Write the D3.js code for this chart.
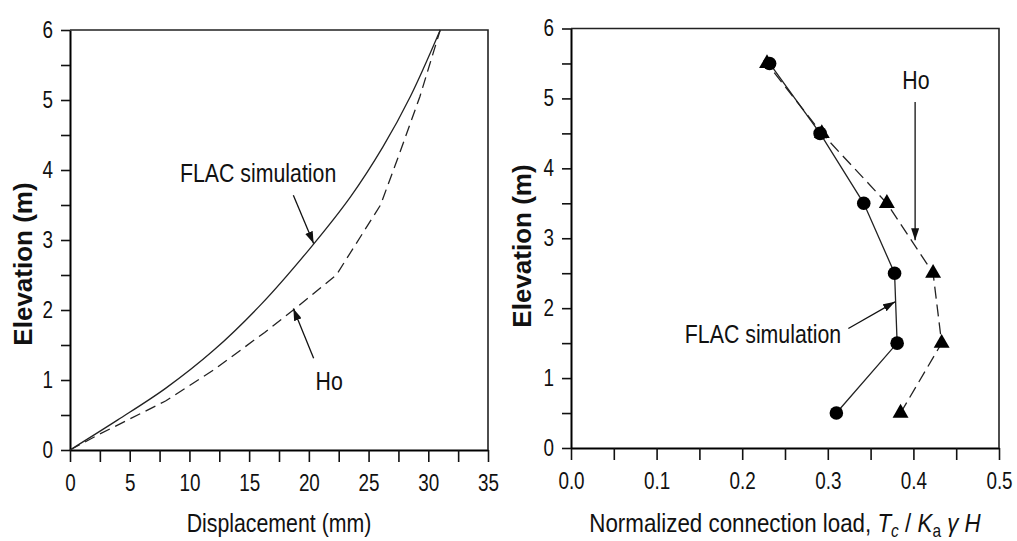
<!DOCTYPE html>
<html>
<head>
<meta charset="utf-8">
<script src="https://cdn.jsdelivr.net/npm/d3@7"></script>
<style>
  body { margin: 0; background: #fff; }
  svg text { fill: #111; }
  .tick text { font-family: "Liberation Sans", Arial, sans-serif; font-size: 23px; }
  .lbl { font-family: "Liberation Sans", Arial, sans-serif; font-size: 26px; }
  .ytitle { font-family: "Liberation Sans", Arial, sans-serif; font-size: 26px; font-weight: bold; }
</style>
</head>
<body>
<div id="chart"></div>
<script>
// left panel: wall displacement profile
const flacDisp = [0, 4, 8, 12, 16, 20, 23.5, 26.2, 28.5, 31];
const flacElev = [0, 0.43, 0.88, 1.42, 2.08, 2.86, 3.62, 4.33, 5.05, 6];
const hoDisp = [0, 2.4, 8, 12, 16.3, 18.7, 22.3, 26, 27.6, 29.3, 31];
const hoElev = [0, 0.22, 0.7, 1.14, 1.68, 2.0, 2.5, 3.5, 4.24, 5.05, 6];

// right panel: connection loads per layer
const layerElev = [0.5, 1.5, 2.5, 3.5, 4.5, 5.5];
const flacLoad = [0.31, 0.381, 0.378, 0.342, 0.291, 0.232];
const hoLoad = [0.385, 0.433, 0.423, 0.369, 0.293, 0.229];

// tick labels
const elevTicks = [0, 1, 2, 3, 4, 5, 6];
const dispTicks = [0, 5, 10, 15, 20, 25, 30, 35];
const loadTicks = ["0.0", "0.1", "0.2", "0.3", "0.4", "0.5"];

const squeeze = 0.82;   // condensed look of the original lettering

const svg = d3.select("#chart").append("svg")
    .attr("width", 1017)
    .attr("height", 541);

svg.append("defs").append("marker")
    .attr("id", "head")
    .attr("viewBox", "0 0 12 8")
    .attr("refX", 12)
    .attr("refY", 4)
    .attr("markerWidth", 12)
    .attr("markerHeight", 8)
    .attr("markerUnits", "userSpaceOnUse")
    .attr("orient", "auto")
    .append("path")
    .attr("d", "M0,0 L12,4 L0,8 Z")
    .attr("fill", "#111");

function drawFrame(x, y, xLabels, yLabels) {
    let xd = x.domain(), yd = y.domain();
    let xStep = (xd[1] - xd[0]) / (xLabels.length - 1);
    let yStep = (yd[1] - yd[0]) / (yLabels.length - 1);
    let xTickVals = d3.range(0, xLabels.length * 2 - 1).map(i => xd[0] + i * xStep / 2);
    let yTickVals = d3.range(0, yLabels.length * 2 - 1).map(i => yd[0] + i * yStep / 2);

    svg.append("g")
        .attr("transform", `translate(0, ${y.range()[0]})`)
        .call(d3.axisBottom(x)
            .tickValues(xTickVals)
            .tickSize(12)
            .tickSizeOuter(0)
            .tickPadding(13)
            .tickFormat((v, i) => i % 2 === 0 ? xLabels[i / 2] : ""))
        .call(g => g.select(".domain").attr("stroke-width", 2))
        .call(g => g.selectAll(".tick text").attr("transform", `scale(${squeeze},1)`));

    svg.append("g")
        .attr("transform", `translate(${x.range()[0]}, 0)`)
        .call(d3.axisLeft(y)
            .tickValues(yTickVals)
            .tickSize(9)
            .tickSizeOuter(0)
            .tickPadding(8 / squeeze + 9 / squeeze - 9)
            .tickFormat((v, i) => i % 2 === 0 ? yLabels[i / 2] : ""))
        .call(g => g.select(".domain").attr("stroke-width", 2))
        .call(g => g.selectAll(".tick text").attr("transform", `scale(${squeeze},1)`));

    svg.selectAll(".tick line").attr("stroke", "#111").attr("stroke-width", 1.6);

    // box top and right
    svg.append("path")
        .attr("d", `M${x.range()[0]},${y.range()[1]} H${x.range()[1]} V${y.range()[0]}`)
        .attr("fill", "none")
        .attr("stroke", "#222")
        .attr("stroke-width", 1.6);
}

function label(px, py, txt, sx = squeeze) {
    return svg.append("text").attr("class", "lbl")
        .attr("transform", `translate(${px}, ${py}) scale(${sx},1)`)
        .attr("text-anchor", "middle")
        .text(txt);
}

function arrow(x, y, from, to) {
    svg.append("line")
        .attr("x1", x(from[0])).attr("y1", y(from[1]))
        .attr("x2", x(to[0])).attr("y2", y(to[1]))
        .attr("stroke", "#111")
        .attr("stroke-width", 1.3)
        .attr("marker-end", "url(#head)");
}

// ---------- left panel ----------
const xL = d3.scaleLinear().domain([0, 35]).range([70, 488]);
const yL = d3.scaleLinear().domain([0, 6]).range([450, 30]);

drawFrame(xL, yL, dispTicks, elevTicks);

const lineL = d3.line()
    .x(d => xL(d[0]))
    .y(d => yL(d[1]));

svg.append("path")
    .attr("fill", "none")
    .attr("stroke", "#222")
    .attr("stroke-width", 1.3)
    .attr("d", lineL.curve(d3.curveCatmullRom)(d3.zip(flacDisp, flacElev)));

svg.append("path")
    .attr("fill", "none")
    .attr("stroke", "#222")
    .attr("stroke-width", 1.3)
    .attr("stroke-dasharray", "11,6")
    .attr("d", lineL.curve(d3.curveLinear)(d3.zip(hoDisp, hoElev)));

label(xL(15.75), yL(3.83), "FLAC simulation");
arrow(xL, yL, [18.7, 3.64], [20.4, 2.95]);

label(xL(21.7), yL(0.86), "Ho");
arrow(xL, yL, [20.4, 1.31], [18.7, 2.02]);

label((xL.range()[0] + xL.range()[1]) / 2, 532, "Displacement (mm)");

svg.append("text").attr("class", "ytitle")
    .attr("transform", `translate(32, 264) rotate(-90)`)
    .attr("text-anchor", "middle")
    .text("Elevation (m)");

// ---------- right panel ----------
const xR = d3.scaleLinear().domain([0, 0.5]).range([571, 999]);
const yR = d3.scaleLinear().domain([0, 6]).range([448, 28.5]);

drawFrame(xR, yR, loadTicks, elevTicks);

const lineR = d3.line()
    .x(d => xR(d[0]))
    .y(d => yR(d[1]));

const hoPts = d3.zip(hoLoad, layerElev);
const flacPts = d3.zip(flacLoad, layerElev);

svg.append("path")
    .attr("fill", "none")
    .attr("stroke", "#222")
    .attr("stroke-width", 1.3)
    .attr("stroke-dasharray", "12,6")
    .attr("d", lineR(hoPts));

svg.append("path")
    .attr("fill", "none")
    .attr("stroke", "#222")
    .attr("stroke-width", 1.3)
    .attr("d", lineR(flacPts));

svg.selectAll(".tri")
    .data(hoPts)
    .join("path")
    .attr("class", "tri")
    .attr("transform", d => `translate(${xR(d[0])}, ${yR(d[1])})`)
    .attr("d", d3.symbol(d3.symbolTriangle, 110))
    .attr("fill", "#000");

svg.selectAll(".dot")
    .data(flacPts)
    .join("circle")
    .attr("class", "dot")
    .attr("cx", d => xR(d[0]))
    .attr("cy", d => yR(d[1]))
    .attr("r", 6.8)
    .attr("fill", "#000");

label(xR(0.403), yR(5.13), "Ho");
arrow(xR, yR, [0.402, 4.95], [0.402, 2.97]);

label(xR(0.2243), yR(1.5), "FLAC simulation");
arrow(xR, yR, [0.324, 1.71], [0.3785, 2.09]);

let title = label((xR.range()[0] + xR.range()[1]) / 2, 532, null, 0.86);
title.append("tspan").text("Normalized connection load, ");
title.append("tspan").attr("font-style", "italic").text("T");
title.append("tspan").attr("font-size", "18px").attr("dy", 5).attr("font-style", "italic").text("c");
title.append("tspan").attr("dy", -5).text(" / ");
title.append("tspan").attr("font-style", "italic").text("K");
title.append("tspan").attr("font-size", "18px").attr("dy", 5).text("a");
title.append("tspan").attr("dy", -5).attr("font-style", "italic").text(" γ H");

svg.append("text").attr("class", "ytitle")
    .attr("transform", `translate(531, 246) rotate(-90)`)
    .attr("text-anchor", "middle")
    .text("Elevation (m)");
</script>
</body>
</html>
